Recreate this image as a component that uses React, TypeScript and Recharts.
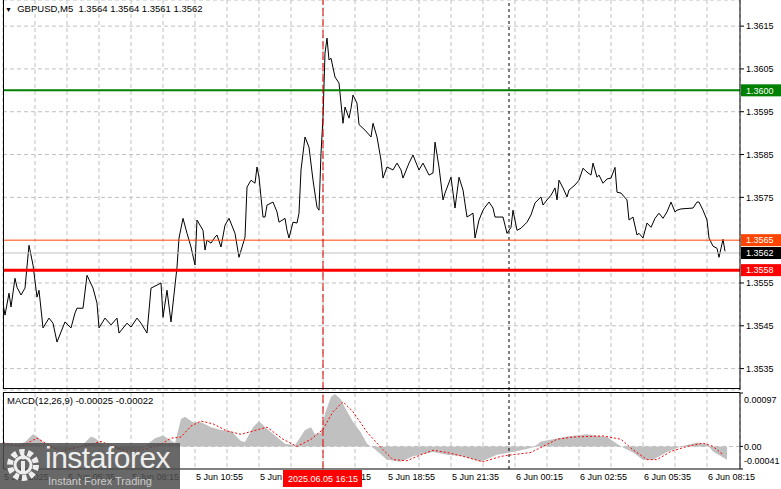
import {
  Area,
  CartesianGrid,
  ComposedChart,
  Line,
  ReferenceLine,
  XAxis,
  YAxis,
} from 'recharts';

const FONT = '"Liberation Sans", Arial, sans-serif';
const GRID = '#c0c0c0';

const symbolTitle = 'GBPUSD,M5';
const lastBarOhlc = ['1.3564', '1.3564', '1.3561', '1.3562'];
const macdTitle = 'MACD(12,26,9)';
const macdReadout = ['-0.00025', '-0.00022'];

// [bar, close] — M5 bars counted from the left edge of the window
const closeSeries: [number, number][] = [
  [0, 1.35501], [1, 1.35475], [3, 1.35526], [4, 1.35494], [6, 1.35561], [7, 1.3554], [9, 1.35522],
  [11, 1.35538], [13, 1.35638], [15, 1.35592], [17, 1.35517], [18, 1.35533], [20, 1.35445], [23, 1.35468],
  [25, 1.35456], [27, 1.35412], [31, 1.35459], [34, 1.35445], [36, 1.3548], [37, 1.35491], [40, 1.35491],
  [42, 1.35568], [45, 1.35538], [47, 1.35503], [48, 1.35445], [51, 1.35468], [54, 1.35452], [57, 1.35468],
  [58, 1.35433], [62, 1.35456], [64, 1.35447], [67, 1.35468], [69, 1.35456], [72, 1.35433], [74, 1.35538],
  [77, 1.35545], [79, 1.3555], [80, 1.3547], [82, 1.35533], [84, 1.35459], [87, 1.35587], [88, 1.35655],
  [90, 1.35701], [92, 1.35666], [94, 1.35634], [96, 1.35592], [97, 1.35697], [100, 1.35673], [101, 1.35627],
  [102, 1.3565], [104, 1.35643], [106, 1.35657], [107, 1.35662], [109, 1.35634], [111, 1.35685], [113, 1.35701],
  [116, 1.35666], [118, 1.3561], [121, 1.35657], [122, 1.35774], [124, 1.3579], [126, 1.35783], [127, 1.35821],
  [128, 1.35797], [130, 1.35704], [131, 1.35704], [132, 1.35732], [135, 1.35739], [137, 1.35716], [138, 1.35692],
  [141, 1.35701], [142, 1.35673], [143, 1.35655], [145, 1.35692], [147, 1.3569], [148, 1.35713], [149, 1.35814],
  [151, 1.35891], [153, 1.35867], [155, 1.3579], [157, 1.35727], [158, 1.3572], [159, 1.35853], [160, 1.35937],
  [161, 1.36087], [162, 1.36122], [163, 1.36071], [164, 1.36075], [166, 1.36031], [168, 1.36017], [170, 1.35923],
  [171, 1.35961], [173, 1.35935], [174, 1.35958], [175, 1.35989], [177, 1.3597], [178, 1.3592], [181, 1.35907],
  [184, 1.35891], [185, 1.35923], [187, 1.35891], [189, 1.35837], [190, 1.35795], [192, 1.35821], [195, 1.35814],
  [197, 1.3583], [199, 1.35814], [200, 1.35795], [203, 1.3583], [205, 1.35849], [206, 1.35837], [208, 1.35814],
  [210, 1.3583], [213, 1.35802], [215, 1.35807], [216, 1.35879], [218, 1.35821], [220, 1.35744], [221, 1.3576],
  [224, 1.35797], [226, 1.35725], [228, 1.35797], [230, 1.35767], [232, 1.35704], [235, 1.35713], [236, 1.35655],
  [238, 1.35697], [240, 1.3572], [241, 1.35727], [243, 1.35739], [245, 1.35725], [246, 1.35704], [250, 1.35704],
  [252, 1.35666], [254, 1.3568], [255, 1.3572], [257, 1.35673], [259, 1.35678], [262, 1.35692], [264, 1.35709],
  [266, 1.35737], [269, 1.35751], [270, 1.35732], [272, 1.35744], [274, 1.35755], [276, 1.35772], [277, 1.35744],
  [278, 1.3579], [280, 1.35772], [282, 1.35751], [283, 1.35767], [286, 1.35779], [288, 1.3579], [290, 1.35818],
  [292, 1.35809], [294, 1.35802], [295, 1.3583], [297, 1.35797], [298, 1.35802], [300, 1.35783], [302, 1.35793],
  [304, 1.35795], [306, 1.3582], [307, 1.35762], [309, 1.3576], [312, 1.35744], [313, 1.35697], [315, 1.35704],
  [317, 1.35662], [318, 1.35666], [320, 1.35655], [322, 1.3569], [324, 1.3568], [326, 1.35701], [328, 1.35713],
  [330, 1.35701], [332, 1.35716], [334, 1.35739], [336, 1.35716], [337, 1.3572], [339, 1.35723], [345, 1.35725],
  [347, 1.35739], [348, 1.35739], [350, 1.3572], [352, 1.35697], [353, 1.35655], [355, 1.35636], [357, 1.35631],
  [358, 1.3561], [360, 1.35652], [361, 1.35624],
];

// [bar, value]
const macdHistogram: [number, number][] = [
  [0, 0.00005], [6, 0.00002], [11, 0.00008], [15, 0.00022], [17, 0.00018], [21, 0.00005], [26, -0.00005],
  [31, -0.00008], [39, 0], [44, 0.00018], [46, 0.00015], [51, 0.00002], [59, -0.00008], [69, -0.00005],
  [76, 0.00015], [80, 0.0002], [86, 0.00006], [89, 0.0005], [91, 0.00054], [95, 0.00044], [99, 0.00044],
  [104, 0.00035], [109, 0.0003], [114, 0.00028], [119, 0.0001], [121, 0.00008], [125, 0.00035], [128, 0.00046],
  [131, 0.00035], [136, 0.0002], [141, 0.00005], [146, 0.00002], [151, 0.0003], [154, 0.00035], [156, 0.00022],
  [159, 0.00025], [161, 0.0006], [164, 0.0009], [166, 0.00095], [169, 0.00085], [171, 0.0007], [175, 0.00045],
  [179, 0.00025], [182, 0.00005], [186, -0.00005], [192, -0.00024], [199, -0.00028], [205, -0.00018],
  [215, -0.0001], [222, -0.00015], [230, -0.00018], [239, -0.00028], [247, -0.00015], [255, -0.0001],
  [265, -0.00002], [269, 0.00009], [275, 0.00013], [282, 0.00018], [292, 0.00022], [302, 0.00017], [309, 0],
  [315, -0.00011], [320, -0.00024], [325, -0.00024], [332, -0.0001], [339, 0], [347, 0.00007], [352, 0.00004],
  [355, -0.00009], [362, -0.00024],
];

const macdSignal: [number, number][] = [
  [0, 0.00007], [9, 0], [17, 0.00015], [24, 0], [29, -0.00009], [44, 0.00004], [49, 0.00009], [55, 0],
  [62, -0.00009], [70, -0.00006], [79, 0.00004], [84, 0.00015], [89, 0.00017], [94, 0.00037], [99, 0.00046],
  [105, 0.00041], [112, 0.00028], [119, 0.00022], [125, 0.00028], [132, 0.00035], [140, 0.00013], [147, 0],
  [154, 0.00013], [160, 0.00031], [165, 0.00063], [170, 0.00081], [175, 0.00063], [182, 0.00026],
  [190, -0.00006], [195, -0.00024], [202, -0.00026], [207, -0.00018], [215, -0.00007], [222, -0.00011],
  [230, -0.00018], [240, -0.00028], [249, -0.00018], [255, -0.00015], [264, -0.00011], [270, 0], [277, 0.00013],
  [285, 0.00017], [292, 0.00018], [300, 0.00019], [309, 0.00013], [315, -0.00006], [322, -0.00024],
  [327, -0.00024], [334, -0.00009], [342, 0], [350, 0.00006], [355, 0], [360, -0.00015],
];

const priceTicks = [1.3535, 1.3545, 1.3555, 1.3575, 1.3585, 1.3595, 1.3605, 1.3615];
const macdTicks = [-0.00041, 0, 0.00097];
const gridBars = [0, 16, 32, 48, 64, 80, 96, 112, 128, 144, 160, 176, 192, 208, 224, 240, 256, 272, 288, 304, 320, 336, 352];
const timeTickBars = [0, 32, 64, 96, 128, 160, 192, 224, 256, 288, 320, 352];
const timeTickLabels = [
  '5 Jun 2025', '5 Jun 05:35', '5 Jun 08:15', '5 Jun 10:55', '5 Jun 13:35', '5 Jun 16:15',
  '5 Jun 18:55', '5 Jun 21:35', '6 Jun 00:15', '6 Jun 02:55', '6 Jun 05:35', '6 Jun 08:15',
];

const resistanceLevel = 1.36;
const askLevel = 1.3565;
const bidLevel = 1.3562;
const supportLevel = 1.3558;
const crosshairBar = 160;
const crosshairLabel = '2025.06.05 16:15';
const daySeparatorBar = 253;

const barDomain: [number, number] = [0, 368.5];

const closeData = closeSeries.map(([bar, close]) => ({ bar, close }));
const histData = macdHistogram.map(([bar, hist]) => ({ bar, hist }));
const signalData = macdSignal.map(([bar, signal]) => ({ bar, signal }));

function PriceTag({ viewBox, text, bg }: any) {
  const left = viewBox.x + viewBox.width + 1;
  return (
    <g>
      <rect x={left} y={viewBox.y - 6} width={40} height={12} fill={bg} />
      <text x={left + 5} y={viewBox.y} dy="0.36em" fontSize={9} fill="#fff" fontFamily={FONT}>
        {text}
      </text>
    </g>
  );
}

// time labels sit left-aligned on their grid line; the crosshair's red date box is drawn over its own label
function TimeTick({ x, y, payload }: any) {
  const i = timeTickBars.indexOf(payload.value);
  if (i < 0) return <g />;
  const label = (
    <text x={x + 1} y={y} dy="0.71em" textAnchor="start" fontSize={9} fill="#000" fontFamily={FONT}>
      {timeTickLabels[i]}
    </text>
  );
  if (payload.value !== crosshairBar) return label;
  return (
    <g>
      {label}
      <rect x={x - 40} y={y - 4} width={79} height={17} fill="#ff0000" />
      <text x={x} y={y + 5} dy="0.36em" textAnchor="middle" fontSize={9} fill="#fff" fontFamily={FONT}>
        {crosshairLabel}
      </text>
    </g>
  );
}

function MacdTick({ x, y, payload }: any) {
  const v = payload.value;
  const shift = v === macdTicks[2] ? 7 : v === macdTicks[0] ? -8 : 0;
  return (
    <text x={x} y={y + shift} dy="0.36em" textAnchor="start" fontSize={9} fill="#000" fontFamily={FONT}>
      {v === 0 ? '0.00' : v.toFixed(5)}
    </text>
  );
}

export default function App() {
  return (
    <div style={{ position: 'absolute', left: 0, top: 0, width: 781, height: 489, background: '#fff', overflow: 'hidden', fontFamily: FONT }}>
      <div style={{ position: 'absolute', left: 0, top: 0 }}>
        <ComposedChart width={781} height={391} margin={{ top: 0, right: 0, bottom: 1, left: 3 }}>
          <CartesianGrid stroke={GRID} strokeDasharray="4 3" />
          <XAxis dataKey="bar" type="number" domain={barDomain} ticks={gridBars} interval={0} allowDataOverflow hide />
          <YAxis
            orientation="right"
            width={41}
            type="number"
            domain={[1.353, 1.36211]}
            ticks={priceTicks}
            interval={0}
            allowDataOverflow
            tickFormatter={(v: number) => v.toFixed(4)}
            tick={{ fontSize: 9, fill: '#000', fontFamily: FONT }}
            tickSize={4}
            tickMargin={2}
            axisLine={{ stroke: '#000' }}
            tickLine={{ stroke: '#000' }}
          />
          <ReferenceLine x={daySeparatorBar} stroke="#000" strokeDasharray="3 3" />
          <Line data={closeData} dataKey="close" type="linear" stroke="#000" strokeWidth={1} dot={false} isAnimationActive={false} />
          <ReferenceLine y={bidLevel} stroke={GRID} label={<PriceTag text="1.3562" bg="#000" />} />
          <ReferenceLine y={askLevel} stroke="#ff4500" label={<PriceTag text="1.3565" bg="#ff4500" />} />
          <ReferenceLine y={resistanceLevel} stroke="#008000" strokeWidth={2} label={<PriceTag text="1.3600" bg="#008000" />} />
          <ReferenceLine y={supportLevel} stroke="#ff0000" strokeWidth={3} label={<PriceTag text="1.3558" bg="#ff0000" />} />
          <ReferenceLine x={crosshairBar} stroke="#e00000" strokeDasharray="8 3" />
        </ComposedChart>
      </div>

      <div style={{ position: 'absolute', left: 0, top: 389 }}>
        <ComposedChart width={781} height={100} margin={{ top: 4, right: 0, bottom: 0, left: 3 }}>
          <CartesianGrid stroke={GRID} strokeDasharray="4 3" horizontal={false} />
          <XAxis
            dataKey="bar"
            type="number"
            domain={barDomain}
            ticks={gridBars}
            interval={0}
            allowDataOverflow
            height={20}
            tick={<TimeTick />}
            tickLine={false}
            tickSize={3}
            tickMargin={2}
            axisLine={{ stroke: '#000' }}
          />
          <YAxis
            orientation="right"
            width={41}
            type="number"
            domain={[-0.00041, 0.00097]}
            ticks={macdTicks}
            interval={0}
            allowDataOverflow
            tick={<MacdTick />}
            tickSize={3}
            tickMargin={1}
            axisLine={{ stroke: '#000' }}
            tickLine={{ stroke: '#000' }}
          />
          <ReferenceLine y={0} stroke={GRID} strokeDasharray="4 3" />
          <Area data={histData} dataKey="hist" type="linear" baseValue={0} stroke="none" fill="#c0c0c0" fillOpacity={1} isAnimationActive={false} />
          <Line data={signalData} dataKey="signal" type="linear" stroke="#ff0000" strokeWidth={1} strokeDasharray="2 2" dot={false} isAnimationActive={false} />
          <ReferenceLine x={daySeparatorBar} stroke="#000" strokeDasharray="3 3" />
          <ReferenceLine x={crosshairBar} stroke="#e00000" strokeDasharray="8 3" />
        </ComposedChart>
      </div>

      {/* panel frames */}
      <div style={{ position: 'absolute', left: 3, top: -1, width: 737, height: 390, borderLeft: '1px solid #000', borderBottom: '1px solid #000', boxSizing: 'border-box', pointerEvents: 'none' }} />
      <div style={{ position: 'absolute', left: 3, top: 392, width: 737, height: 77, borderLeft: '1px solid #000', borderTop: '1px solid #000', boxSizing: 'border-box', pointerEvents: 'none' }} />

      <div style={{ position: 'absolute', left: 5, top: 3, fontSize: 9.5, color: '#000', whiteSpace: 'pre', lineHeight: '12px' }}>
        <span style={{ fontSize: 7 }}>▼</span>
        {'  ' + symbolTitle + '  ' + lastBarOhlc.join(' ')}
      </div>
      <div style={{ position: 'absolute', left: 7, top: 395, fontSize: 9.5, color: '#000', whiteSpace: 'pre', lineHeight: '12px' }}>
        {macdTitle + ' ' + macdReadout.join(' ')}
      </div>

      {/* broker watermark */}
      <div style={{ position: 'absolute', left: 0, top: 443, width: 180, height: 46, background: 'rgba(78,78,78,0.85)', pointerEvents: 'none' }}>
        <svg width={44} height={46} style={{ position: 'absolute', left: 2, top: 0 }}>
          <circle cx={21} cy={22} r={13} fill="none" stroke="#eee" strokeWidth={6} strokeDasharray="5 3.2" />
          <circle cx={21} cy={22} r={8} fill="none" stroke="#eee" strokeWidth={3} />
          <rect x={19} y={18} width={4} height={12} fill="#eee" />
          <circle cx={21} cy={14} r={2.5} fill="#eee" />
        </svg>
        <div style={{ position: 'absolute', left: 45, top: -1, fontSize: 30, color: '#eee', fontWeight: 300, lineHeight: '32px', letterSpacing: '-0.5px' }}>
          instaforex
        </div>
        <div style={{ position: 'absolute', left: 48, top: 32, fontSize: 11, color: '#ccc', lineHeight: '12px' }}>
          Instant Forex Trading
        </div>
      </div>
    </div>
  );
}
